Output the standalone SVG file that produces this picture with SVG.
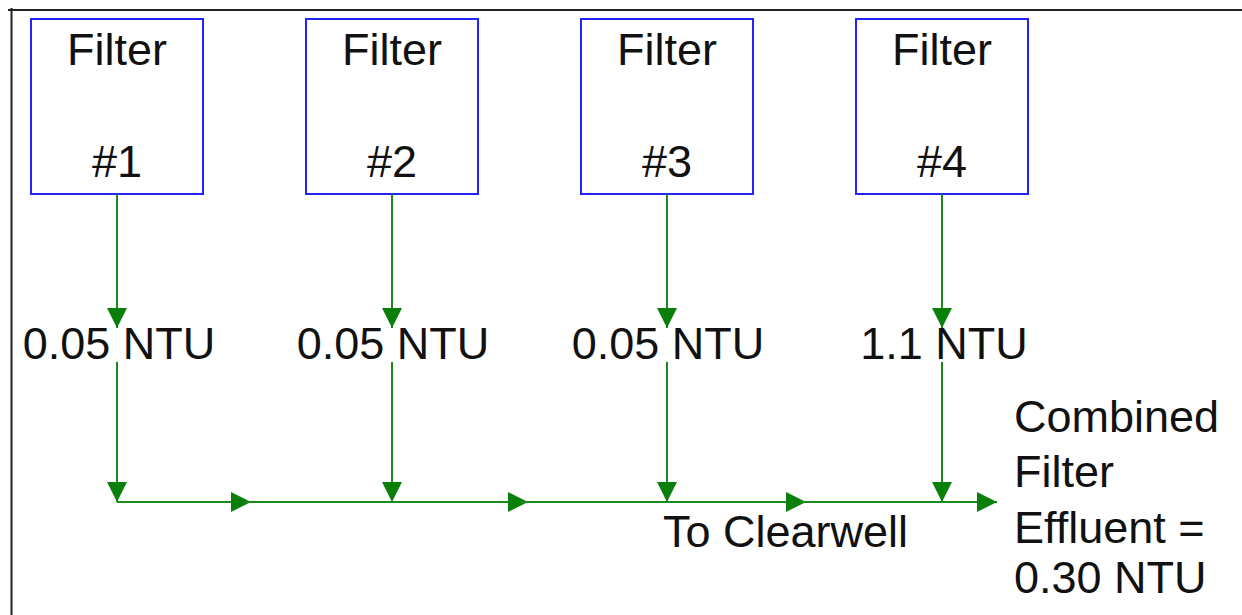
<svg xmlns="http://www.w3.org/2000/svg" width="1242" height="615" viewBox="0 0 1242 615">
<style>
.box{fill:#fff;stroke:#2222ff;stroke-width:2}
.t{font-family:"Liberation Sans",Arial,sans-serif;font-size:45px;fill:#111}
.c{stroke:#1a8a1a;stroke-width:2;fill:none}
</style>
<defs>
<marker id="ah" viewBox="0 0 10 10" refX="10" refY="5" markerWidth="20" markerHeight="20" markerUnits="userSpaceOnUse" orient="auto">
<path d="M0,0 L10,5 L0,10 z" fill="#0a7f0a"/>
</marker>
</defs>
<rect width="1242" height="615" fill="#fff"/>
<g id="frame">
<line x1="8" y1="10" x2="1242" y2="10" stroke="#222" stroke-width="2"/>
<line x1="11.5" y1="8" x2="11.5" y2="615" stroke="#222" stroke-width="2"/>
</g>
<g id="filter1"><rect class="box" x="31" y="19" width="172" height="175"/><text class="t" x="117" y="65" text-anchor="middle">Filter</text><text class="t" x="117" y="177" text-anchor="middle">#1</text></g>
<g id="filter2"><rect class="box" x="306" y="19" width="172" height="175"/><text class="t" x="392" y="65" text-anchor="middle">Filter</text><text class="t" x="392" y="177" text-anchor="middle">#2</text></g>
<g id="filter3"><rect class="box" x="581" y="19" width="172" height="175"/><text class="t" x="667" y="65" text-anchor="middle">Filter</text><text class="t" x="667" y="177" text-anchor="middle">#3</text></g>
<g id="filter4"><rect class="box" x="856" y="19" width="172" height="175"/><text class="t" x="942" y="65" text-anchor="middle">Filter</text><text class="t" x="942" y="177" text-anchor="middle">#4</text></g>
<g id="connectors">
<path class="c" d="M117,194 V328" marker-end="url(#ah)"/>
<path class="c" d="M392,194 V328" marker-end="url(#ah)"/>
<path class="c" d="M667,194 V328" marker-end="url(#ah)"/>
<path class="c" d="M942,194 V328" marker-end="url(#ah)"/>
<path class="c" d="M117,362 V502" marker-end="url(#ah)"/>
<path class="c" d="M392,362 V502" marker-end="url(#ah)"/>
<path class="c" d="M667,362 V502" marker-end="url(#ah)"/>
<path class="c" d="M942,362 V502" marker-end="url(#ah)"/>
<path class="c" d="M117,502 H251" marker-end="url(#ah)"/>
<path class="c" d="M245,502 H528" marker-end="url(#ah)"/>
<path class="c" d="M520,502 H806" marker-end="url(#ah)"/>
<path class="c" d="M800,502 H997" marker-end="url(#ah)"/>
</g>
<g id="labels">
<text class="t" x="119" y="359" text-anchor="middle">0.05 NTU</text>
<text class="t" x="393" y="359" text-anchor="middle">0.05 NTU</text>
<text class="t" x="668" y="359" text-anchor="middle">0.05 NTU</text>
<text class="t" x="944" y="359" text-anchor="middle">1.1 NTU</text>
<text class="t" x="663" y="547">To Clearwell</text>
<text class="t" x="1014" y="432">Combined</text>
<text class="t" x="1014" y="487">Filter</text>
<text class="t" x="1014" y="543">Effluent =</text>
<text class="t" x="1014" y="593">0.30 NTU</text>
</g>
</svg>
